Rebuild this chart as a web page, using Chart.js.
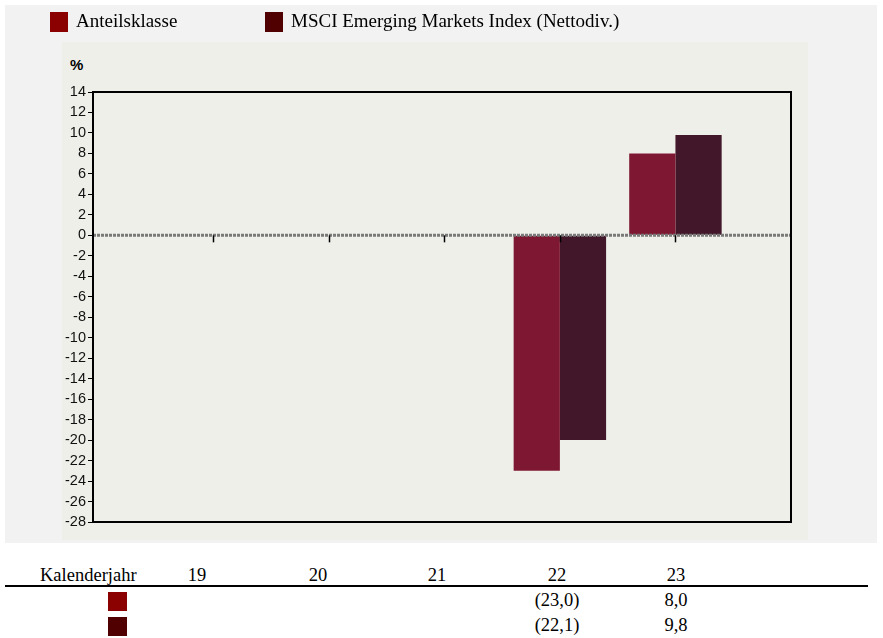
<!DOCTYPE html>
<html>
<head>
<meta charset="utf-8">
<script src="https://cdn.jsdelivr.net/npm/chart.js@4"></script>
<style>
  html, body { margin:0; padding:0; background:#ffffff; width:883px; height:638px; overflow:hidden; }
  #outer { position:absolute; left:5px; top:5px; width:872px; height:538px; background:#f2f2f2; }
  #inner { position:absolute; left:62px; top:42px; width:746px; height:498px; background:#efefea; }
  #cv { position:absolute; left:0; top:0; }
  .serif { font-family:"Liberation Serif","Times New Roman",serif; font-size:19px; color:#000; position:absolute; white-space:nowrap; }
  .box { position:absolute; width:18px; height:20px; }
  .pct { position:absolute; left:70px; top:56px; font-family:"Liberation Sans",Arial,sans-serif; font-weight:bold; font-size:15px; }
  .cell { position:absolute; transform:translateX(-50%); font-family:"Liberation Serif","Times New Roman",serif; font-size:18.5px; white-space:nowrap; }
  #rule { position:absolute; left:5px; top:585px; width:863px; height:2px; background:#000; }
</style>
</head>
<body>
<div id="outer"></div>
<div id="inner"></div>
<div class="pct">%</div>
<canvas id="cv" width="883" height="545"></canvas>
<div id="legend"></div>
<div id="table"></div>
<div id="rule"></div>
<script>
// ---- data ----
const categories = ['19', '20', '21', '22', '23'];
const seriesNames = ['Anteilsklasse', 'MSCI Emerging Markets Index (Nettodiv.)'];
// bar heights as drawn in the chart
const anteilsklasse = [null, null, null, -23.0, 8.0];
const msciIndex = [null, null, null, -20.0, 9.8];
// values printed in the table below the chart
const tableAnteilsklasse = [null, null, null, -23.0, 8.0];
const tableMsciIndex = [null, null, null, -22.1, 9.8];
const yTicks = [14,12,10,8,6,4,2,0,-2,-4,-6,-8,-10,-12,-14,-16,-18,-20,-22,-24,-26,-28];

const barColors = ['#7e1832', '#421729'];
const legendColors = ['#8b0000', '#500000'];

// ---- legend (HTML) ----
const legend = document.getElementById('legend');
const legX = [50, 265];
seriesNames.forEach((n, i) => {
  const b = document.createElement('div');
  b.className = 'box'; b.style.left = legX[i] + 'px'; b.style.top = '12px'; b.style.background = legendColors[i];
  legend.appendChild(b);
  const t = document.createElement('div');
  t.className = 'serif'; t.textContent = n; t.style.left = (legX[i] + 26) + 'px'; t.style.top = '10px';
  legend.appendChild(t);
});

// ---- table (HTML) ----
const table = document.getElementById('table');
const colX = [197, 318, 437, 557, 676];
function fmt(v) {
  if (v === null) return '';
  const s = Math.abs(v).toFixed(1).replace('.', ',');
  return v < 0 ? '(' + s + ')' : s;
}
function addCell(text, x, y) {
  const d = document.createElement('div');
  d.className = 'cell'; d.textContent = text; d.style.left = x + 'px'; d.style.top = y + 'px';
  table.appendChild(d);
}
const hdr = document.createElement('div');
hdr.className = 'serif'; hdr.style.fontSize = '18.5px';
hdr.textContent = 'Kalenderjahr'; hdr.style.left = '40px'; hdr.style.top = '565px';
table.appendChild(hdr);
categories.forEach((c, i) => addCell(c, colX[i], 565));
[tableAnteilsklasse, tableMsciIndex].forEach((arr, r) => {
  const y = 590 + r * 25;
  const b = document.createElement('div');
  b.className = 'box'; b.style.left = '108px'; b.style.top = (y + 2) + 'px'; b.style.width = '19px'; b.style.height = '19px';
  b.style.background = legendColors[r];
  table.appendChild(b);
  arr.forEach((v, i) => addCell(fmt(v), colX[i], y));
});

// ---- chart ----
const toPts = arr => arr.map((v, i) => ({ x: i, y: v }));

const decor = {
  id: 'decor',
  afterDatasetsDraw(chart) {
    const { ctx, chartArea: a, scales: { x, y } } = chart;
    const y0 = y.getPixelForValue(0);
    ctx.save();
    // dotted zero line
    ctx.strokeStyle = '#7a7a7a';
    ctx.lineWidth = 3;
    ctx.setLineDash([3, 1]);
    ctx.beginPath(); ctx.moveTo(a.left, y0); ctx.lineTo(a.right, y0); ctx.stroke();
    ctx.setLineDash([]);
    // category tick marks at zero line
    ctx.strokeStyle = '#000'; ctx.lineWidth = 1.5;
    categories.forEach((c, i) => {
      const px = Math.round(x.getPixelForValue(i)) + 0.5;
      ctx.beginPath(); ctx.moveTo(px, y0); ctx.lineTo(px, y0 + 7); ctx.stroke();
    });
    // frame
    ctx.lineWidth = 2; ctx.strokeStyle = '#000';
    ctx.strokeRect(a.left, a.top, a.right - a.left, a.bottom - a.top);
    ctx.restore();
  }
};

new Chart(document.getElementById('cv'), {
  type: 'bar',
  data: {
    datasets: [
      { label: seriesNames[0], data: toPts(anteilsklasse), backgroundColor: barColors[0], borderWidth: 0 },
      { label: seriesNames[1], data: toPts(msciIndex), backgroundColor: barColors[1], borderWidth: 0 }
    ]
  },
  options: {
    responsive: false,
    animation: false,
    events: [],
    layout: { padding: { left: 40, top: 92, right: 92, bottom: 23 } },
    plugins: { legend: { display: false }, tooltip: { enabled: false } },
    datasets: { bar: { categoryPercentage: 0.8, barPercentage: 1.0 } },
    scales: {
      x: {
        type: 'linear', min: -1.04, max: 5.0, offset: false,
        display: false,
        grid: { display: false, offset: false }
      },
      y: {
        min: -28, max: 14,
        afterFit(s) { s.width = 53; },
        afterBuildTicks(s) { s.ticks = yTicks.map(v => ({ value: v })); },
        border: { display: true, color: '#000', width: 2 },
        grid: { drawOnChartArea: false, drawTicks: true, tickLength: 5, color: '#000', lineWidth: 1 },
        ticks: {
          color: '#111', padding: 2,
          font: { family: '"Liberation Sans", Arial, sans-serif', size: 14.5 },
          callback: v => String(v)
        }
      }
    }
  },
  plugins: [decor]
});
</script>
</body>
</html>
